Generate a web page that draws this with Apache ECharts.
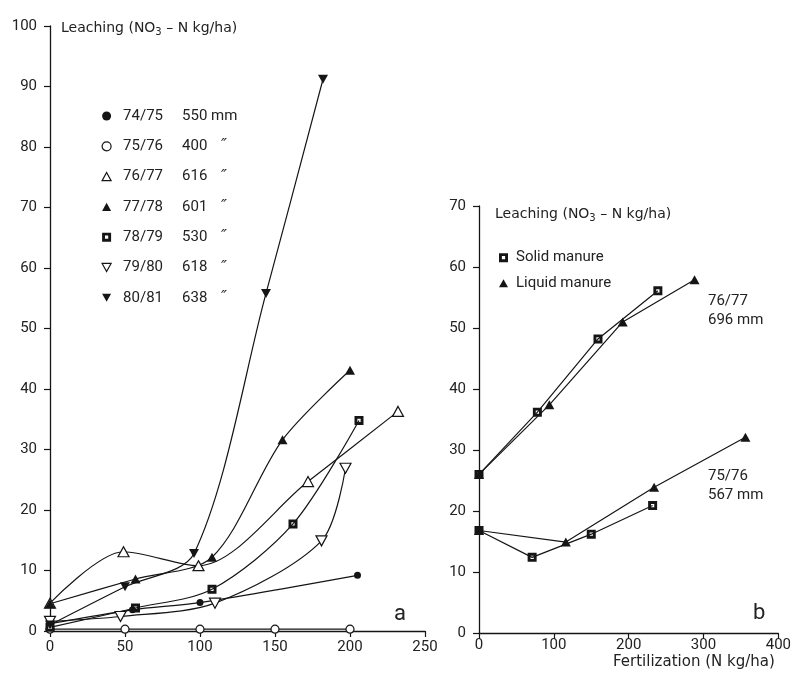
<!DOCTYPE html>
<html>
<head>
<meta charset="utf-8">
<script src="https://cdn.jsdelivr.net/npm/echarts@6/dist/echarts.min.js"></script>
<style>
  html, body { margin: 0; padding: 0; background: #fff; }
  #chart { width: 794px; height: 674px; }
</style>
</head>
<body>
<div id="chart"></div>
<script>
// ---- Panel a: nitrate leaching vs. N fertilization, seven winters ----
const seasons = ['74/75', '75/76', '76/77', '77/78', '78/79', '79/80', '80/81'];
const rainfall = ['550 mm', '400', '616', '601', '530', '618', '638'];

const w7475 = [[0, 1.2], [55, 3.5], [100, 4.7], [205, 9.2]];
const w7576 = [[0, 0.3], [50, 0.3], [100, 0.3], [150, 0.3], [200, 0.3]];
const w7677 = [[0, 4.6], [49, 13.1], [99, 10.8], [172, 24.7], [232, 36.3]];
const w7778 = [[0, 4.5], [57, 8.6], [108, 12.2], [155, 31.6], [200, 43.1]];
const w7879 = [[0, 0.6], [57, 3.8], [108, 6.9], [162, 17.7], [206, 34.8]];
const w7980 = [[0, 1.6], [47, 2.4], [110, 4.6], [181, 14.9], [197, 26.9]];
const w8081 = [[0, 1.0], [50, 7.3], [96, 12.8], [144, 55.8], [182, 91.2]];

// ---- Panel b: solid vs. liquid manure in two winters ----
const solidUpper = [[0, 26.0], [78, 36.2], [159, 48.2], [239, 56.1]];
const liquidUpper = [[0, 26.0], [94, 37.4], [192, 51.0], [288, 57.9]];
const solidLower = [[0, 16.8], [71, 12.4], [150, 16.2], [232, 20.9]];
const liquidLower = [[0, 16.8], [116, 14.9], [234, 23.9], [356, 32.1]];
const manureNames = ['Solid manure', 'Liquid manure'];

// axis ticks
const aXTicks = { min: 0, max: 250, interval: 50 };
const aYTicks = { min: 0, max: 100, interval: 10 };
const bXTicks = { min: 0, max: 400, interval: 100 };
const bYTicks = { min: 0, max: 70, interval: 10 };

const INK = '#151515';
const TXT = '#222';
const FONT = 'Roboto';
const TITLE_FAMILY = 'DejaVu Sans';

// marker shapes
const SQUARE_HOLE = 'path://M0,0L10,0L10,10L0,10Z M3.2,3.2L3.2,6.8L6.8,6.8L6.8,3.2Z';
const TRI_DOWN = 'path://M0,0L10,0L5,9Z';
const TRI_UP = 'path://M5,0L10,9L0,9Z';

const filled = { color: INK, borderWidth: 0 };
const open = { color: '#fff', borderColor: INK, borderWidth: 1.2 };

const markerSpec = [
  { symbol: 'circle', size: 7, style: filled },
  { symbol: 'circle', size: 8, style: open },
  { symbol: TRI_UP, size: [11, 10], style: open },
  { symbol: TRI_UP, size: [10, 9], style: filled },
  { symbol: SQUARE_HOLE, size: 9, style: filled },
  { symbol: TRI_DOWN, size: [11, 10], style: open },
  { symbol: TRI_DOWN, size: [10, 9], style: filled }
];
const winterData = [w7475, w7576, w7677, w7778, w7879, w7980, w8081];

const axisCommon = {
  axisLine: { lineStyle: { color: INK, width: 1.3 } },
  axisTick: { show: true, length: 6, lineStyle: { color: INK, width: 1.2 } },
  splitLine: { show: false },
  axisLabel: { color: TXT, fontFamily: FONT, fontSize: 15 }
};

const seriesA = winterData.map((d, i) => ({
  name: seasons[i],
  type: 'line',
  xAxisIndex: 0,
  yAxisIndex: 0,
  data: d,
  smooth: 0.3,
  symbol: markerSpec[i].symbol,
  symbolSize: markerSpec[i].size,
  itemStyle: markerSpec[i].style,
  lineStyle: { color: INK, width: 1.2 },
  z: 3
}));

function manureSeries(name, data, symbol, size) {
  return {
    name, type: 'line', xAxisIndex: 1, yAxisIndex: 1, data,
    symbol, symbolSize: size, itemStyle: filled,
    lineStyle: { color: INK, width: 1.2 }, z: 3
  };
}
const seriesB = [
  manureSeries(manureNames[0], solidUpper, SQUARE_HOLE, 9),
  manureSeries(manureNames[0], solidLower, SQUARE_HOLE, 9),
  manureSeries(manureNames[1], liquidUpper, TRI_UP, [10, 9]),
  manureSeries(manureNames[1], liquidLower, TRI_UP, [10, 9])
];

// y-axis title with a subscript 3 in NO3
const leachingTitle = {
  text: 'Leaching (NO{s|3} \u2013 N kg/ha)',
  fontFamily: TITLE_FAMILY, fontSize: 14, fill: TXT,
  rich: { s: { fontFamily: TITLE_FAMILY, fontSize: 10, padding: [8, 0, 0, 0] } }
};

const chart = echarts.init(document.getElementById('chart'), null, { renderer: 'canvas' });

chart.setOption({
  animation: false,
  backgroundColor: '#fff',
  grid: [
    { left: 50, top: 26, width: 375, height: 605 },
    { left: 479, top: 206, width: 300, height: 427 }
  ],
  xAxis: [
    Object.assign({ type: 'value', gridIndex: 0 }, aXTicks, axisCommon,
      { axisLabel: Object.assign({}, axisCommon.axisLabel, { margin: 9 }) }),
    Object.assign({ type: 'value', gridIndex: 1 }, bXTicks, axisCommon,
      { axisLabel: Object.assign({}, axisCommon.axisLabel, { margin: 5 }) })
  ],
  yAxis: [
    Object.assign({ type: 'value', gridIndex: 0 }, aYTicks, axisCommon,
      { axisLabel: Object.assign({}, axisCommon.axisLabel, { margin: 13 }) }),
    Object.assign({ type: 'value', gridIndex: 1 }, bYTicks, axisCommon,
      { axisLabel: Object.assign({}, axisCommon.axisLabel, { margin: 13 }) })
  ],
  legend: [
    {
      orient: 'vertical',
      left: 101.5,
      top: 106,
      padding: 0,
      itemWidth: 9,
      itemHeight: 9,
      itemGap: 10.3,
      selectedMode: false,
      data: seasons.map((s, i) => ({
        name: s,
        icon: markerSpec[i].symbol,
        itemStyle: markerSpec[i].style
      })),
      formatter: name => {
        const i = seasons.indexOf(name);
        if (i === 0) return '{g| }{a|' + name + '}{b|' + rainfall[i] + '}';
        return '{g| }{a|' + name + '}{c|' + rainfall[i] + '}{d|\u2033}';
      },
      textStyle: {
        color: TXT, fontFamily: FONT, fontSize: 15, lineHeight: 20,
        rich: {
          g: { width: 7 },
          a: { width: 59, fontFamily: FONT, fontSize: 15, color: TXT },
          b: { fontFamily: FONT, fontSize: 15, color: TXT },
          c: { width: 39, fontFamily: FONT, fontSize: 15, color: TXT },
          d: { fontFamily: 'DejaVu Sans', fontSize: 16, fontStyle: 'italic', color: TXT }
        }
      }
    },
    {
      orient: 'vertical',
      left: 499,
      top: 247.7,
      padding: 0,
      itemWidth: 9,
      itemHeight: 9,
      itemGap: 5.6,
      selectedMode: false,
      data: [
        { name: manureNames[0], icon: SQUARE_HOLE, itemStyle: filled },
        { name: manureNames[1], icon: TRI_UP, itemStyle: filled }
      ],
      formatter: name => '{g| }' + name,
      textStyle: {
        color: TXT, fontFamily: FONT, fontSize: 15, lineHeight: 20,
        rich: { g: { width: 3 } }
      }
    }
  ],
  graphic: [
    { type: 'text', left: 61, top: 21, style: Object.assign({}, leachingTitle) },
    { type: 'text', left: 495, top: 207, style: Object.assign({}, leachingTitle) },
    { type: 'text', left: 394, top: 603, style: { text: 'a', font: '22px ' + FONT, fill: TXT } },
    { type: 'text', left: 753, top: 602, style: { text: 'b', font: '22px ' + FONT, fill: TXT } },
    { type: 'text', left: 708, top: 292, style: { text: '76/77\n696 mm', font: '15px ' + FONT, fill: TXT, lineHeight: 19 } },
    { type: 'text', left: 708, top: 467, style: { text: '75/76\n567 mm', font: '15px ' + FONT, fill: TXT, lineHeight: 19 } },
    { type: 'text', left: 613, top: 655, style: { text: 'Fertilization (N kg/ha)', font: '15px "' + TITLE_FAMILY + '"', fill: TXT } }
  ],
  series: seriesA.concat(seriesB)
});
</script>
</body>
</html>
